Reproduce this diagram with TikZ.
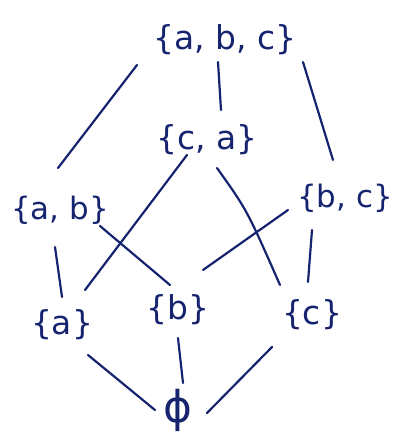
\documentclass[tikz,border=0pt]{standalone}
\usepackage{fontspec}
\setmainfont{DejaVu Sans}
\definecolor{ink}{RGB}{22,36,112}
\begin{document}
\begin{tikzpicture}[x=1bp,y=-1bp,
  setnode/.style={text=ink,inner sep=0pt,font=\fontsize{33}{36}\selectfont},
  edge/.style={draw=ink,line width=2.2bp,line cap=round}]
\useasboundingbox (0,0) rectangle (398,448);
\node[setnode] (abc) at (225,40) {\{a, b, c\}};
\node[setnode] (ca) at (207,140) {\{c, a\}};
\node[setnode,font=\fontsize{31}{34}\selectfont] (ab) at (60,210) {\{a, b\}};
\node[setnode,font=\fontsize{31}{34}\selectfont] (bc) at (345,198) {\{b, c\}};
\node[setnode] (a) at (62,325) {\{a\}};
\node[setnode] (b) at (178,310) {\{b\}};
\node[setnode] (c) at (312,315) {\{c\}};
\node[setnode,font=\fontsize{44}{46}\selectfont] (phi) at (178,410) {ϕ};
\draw[edge] ([shift={(-88,25)}]abc.center) -- ([shift={(-2,-42)}]ab.center);
\draw[edge] ([shift={(-7,22)}]abc.center) -- ([shift={(14,-30)}]ca.center);
\draw[edge] ([shift={(78,22)}]abc.center) -- ([shift={(-12,-38)}]bc.center);
\draw[edge] ([shift={(-20,15)}]ca.center) -- ([shift={(23,-35)}]a.center);
\draw[edge] ([shift={(10,28)}]ca.center) .. controls ([shift={(40,70)}]ca.center) .. ([shift={(-32,-30)}]c.center);
\draw[edge] ([shift={(-5,37)}]ab.center) -- ([shift={(0,-28)}]a.center);
\draw[edge] ([shift={(40,16)}]ab.center) -- ([shift={(-8,-25)}]b.center);
\draw[edge] ([shift={(-57,12)}]bc.center) -- ([shift={(25,-40)}]b.center);
\draw[edge] ([shift={(-33,32)}]bc.center) -- ([shift={(-4,-33)}]c.center);
\draw[edge] ([shift={(26,30)}]a.center) -- ([shift={(-23,0)}]phi.center);
\draw[edge] ([shift={(0,28)}]b.center) -- ([shift={(5,-27)}]phi.center);
\draw[edge] ([shift={(-40,32)}]c.center) -- ([shift={(29,3)}]phi.center);
\end{tikzpicture}
\end{document}
